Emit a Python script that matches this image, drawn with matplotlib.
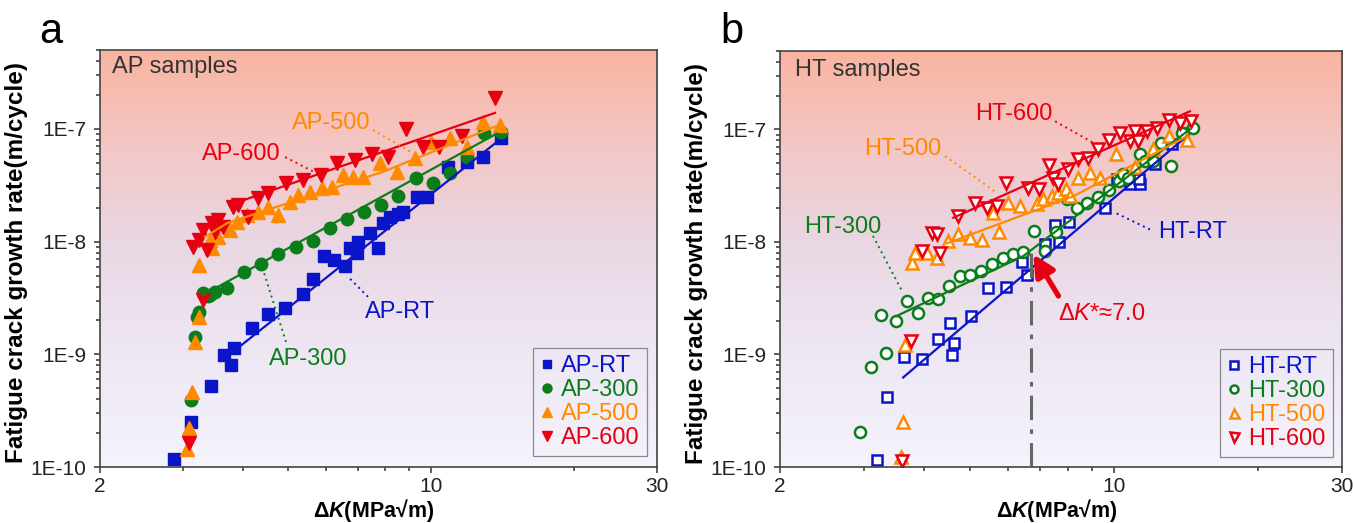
import numpy as np
import matplotlib
matplotlib.use('Agg')
import matplotlib.pyplot as plt
from matplotlib.lines import Line2D
from matplotlib.ticker import FixedLocator, NullFormatter, FuncFormatter
from matplotlib.colors import LinearSegmentedColormap

plt.rcParams['font.family'] = ['Liberation Sans', 'DejaVu Sans']
plt.rcParams['mathtext.fontset'] = 'custom'
plt.rcParams['mathtext.rm'] = 'Liberation Sans'
plt.rcParams['mathtext.it'] = 'Liberation Sans:italic'
plt.rcParams['mathtext.bf'] = 'Liberation Sans:bold'
plt.rcParams['mathtext.bfit'] = 'Liberation Sans:italic:bold'

BLUE, GREEN, ORANGE, RED = '#0a14c8', '#0b7d1a', '#ff8a00', '#e60012'

# ---------------- data: panel a (AP samples) ----------------
ap_rt_dk = [2.87, 3.12, 3.43, 3.65, 3.79, 3.84, 4.18, 4.53, 4.92, 5.36, 5.64, 5.94, 6.24,
            6.58, 6.74, 6.97, 7.02, 7.43, 7.74, 7.93, 8.19, 8.50, 8.74, 9.33, 9.79, 10.88,
            11.89, 12.89, 14.03]
ap_rt_da = [1.19e-10, 2.5e-10, 5.2e-10, 9.9e-10, 8.0e-10, 1.13e-9, 1.70e-9, 2.28e-9, 2.56e-9,
            3.43e-9, 4.66e-9, 7.45e-9, 6.87e-9, 6.08e-9, 8.7e-9, 7.87e-9, 1.0e-8, 1.19e-8,
            8.7e-9, 1.45e-8, 1.66e-8, 1.75e-8, 1.84e-8, 2.5e-8, 2.5e-8, 4.62e-8, 5.1e-8,
            5.67e-8, 8.25e-8]
ap_300_dk = [3.12, 3.17, 3.20, 3.23, 3.30, 3.38, 3.42, 3.50, 3.70, 4.03, 4.38, 4.76, 5.19,
             5.64, 6.12, 6.66, 7.23, 7.84, 8.53, 9.28, 10.08, 10.97, 11.89, 12.96, 14.05]
ap_300_da = [3.93e-10, 1.42e-9, 2.13e-9, 2.39e-9, 3.48e-9, 3.3e-9, 3.35e-9, 3.6e-9, 3.85e-9,
             5.4e-9, 6.3e-9, 7.76e-9, 8.9e-9, 1.02e-8, 1.31e-8, 1.58e-8, 1.84e-8, 2.11e-8,
             2.54e-8, 3.65e-8, 3.33e-8, 4.09e-8, 5.67e-8, 9.25e-8, 9.4e-8]
ap_500_dk = [3.05, 3.08, 3.13, 3.17, 3.24, 3.24, 3.44, 3.41, 3.55, 3.76, 3.89, 4.08, 4.32,
             4.53, 4.76, 5.04, 5.25, 5.55, 5.88, 6.17, 6.51, 6.85, 7.19, 7.80, 8.46, 9.25,
             10.0, 10.97, 11.89, 12.89, 13.98]
ap_500_da = [1.44e-10, 2.2e-10, 4.66e-10, 1.29e-9, 2.16e-9, 6.2e-9, 8.7e-9, 1.03e-8, 1.11e-8,
             1.27e-8, 1.5e-8, 1.72e-8, 1.84e-8, 2.04e-8, 1.72e-8, 2.26e-8, 2.59e-8, 2.77e-8,
             2.97e-8, 3.07e-8, 3.9e-8, 3.75e-8, 3.75e-8, 4.95e-8, 4.17e-8, 5.48e-8, 7.7e-8,
             8.25e-8, 6.95e-8, 1.16e-7, 1.08e-7]
ap_600_dk = [3.09, 3.30, 3.15, 3.23, 3.36, 3.30, 3.44, 3.55, 3.50, 3.64, 3.82, 3.92, 4.11,
             4.32, 4.53, 4.94, 5.37, 5.85, 6.34, 6.91, 7.49, 8.12, 8.85, 9.60, 10.41, 11.61,
             13.65]
ap_600_da = [1.64e-10, 3.03e-9, 9.0e-9, 1.03e-8, 8.4e-9, 1.27e-8, 1.45e-8, 1.55e-8, 1.22e-8,
             1.36e-8, 2.04e-8, 2.11e-8, 1.66e-8, 2.42e-8, 2.68e-8, 3.33e-8, 3.52e-8, 3.9e-8,
             4.95e-8, 5.3e-8, 5.99e-8, 5.67e-8, 9.9e-8, 6.87e-8, 6.87e-8, 8.65e-8, 1.9e-7]

# fitted lines, panel a
fit_ap_rt = ([3.9, 13.65], [1.13e-9, 7.45e-8])
fit_ap_300 = ([3.3, 13.76], [3.36e-9, 9.1e-8])
fit_ap_500 = ([3.33, 3.71, 7.92, 13.65], [1.10e-8, 1.46e-8, 4.17e-8, 1.05e-7])
fit_ap_600 = ([3.75, 13.65], [2.11e-8, 1.39e-7])

# ---------------- data: panel b (HT samples) ----------------
ht_rt_dk = [3.19, 3.35, 3.64, 3.96, 4.29, 4.54, 4.63, 4.58, 5.02, 5.46, 5.93, 6.57, 6.41,
            7.17, 7.68, 7.53, 8.06, 9.58, 10.13, 10.8, 11.33, 11.3, 12.18, 13.2, 13.96]
ht_rt_da = [1.16e-10, 4.15e-10, 9.5e-10, 9.2e-10, 1.37e-9, 1.9e-9, 1.26e-9, 9.9e-10, 2.2e-9,
            3.87e-9, 4.0e-9, 5.05e-9, 6.6e-9, 9.5e-9, 1.0e-8, 1.4e-8, 1.5e-8, 2.01e-8,
            3.59e-8, 3.24e-8, 3.24e-8, 3.6e-8, 4.88e-8, 7.35e-8, 9.3e-8]
ht_300_dk = [2.94, 3.10, 3.33, 3.25, 3.50, 3.68, 3.88, 4.09, 4.29, 4.52, 4.76, 5.0, 5.26,
             5.55, 5.85, 6.14, 6.46, 6.81, 7.17, 7.56, 7.96, 8.35, 8.79, 9.24, 9.75, 10.26,
             10.43, 10.7, 11.33, 11.61, 12.07, 12.54, 13.16, 13.88, 14.65]
ht_300_da = [2.06e-10, 7.67e-10, 1.04e-9, 2.25e-9, 1.99e-9, 2.99e-9, 2.36e-9, 3.2e-9, 3.1e-9,
             4.06e-9, 4.98e-9, 5.05e-9, 5.52e-9, 6.33e-9, 7.26e-9, 7.76e-9, 8.14e-9, 1.25e-8,
             8.3e-9, 1.22e-8, 2.39e-8, 2.01e-8, 2.2e-8, 2.52e-8, 2.89e-8, 3.47e-8, 3.98e-8,
             3.7e-8, 5.99e-8, 5.22e-8, 5.22e-8, 7.6e-8, 4.72e-8, 9.3e-8, 1.03e-7]
ht_500_dk = [3.58, 3.62, 3.65, 3.77, 3.83, 4.06, 4.26, 4.50, 4.72, 5.0, 5.29, 5.75, 5.59,
             6.01, 6.36, 6.89, 7.11, 7.41, 7.65, 7.93, 8.09, 8.42, 8.91, 9.35, 10.1, 11.06,
             12.05, 13.05, 14.19]
ht_500_da = [1.22e-10, 2.49e-10, 1.21e-9, 6.55e-9, 8.04e-9, 8.04e-9, 7.26e-9, 1.02e-8, 1.17e-8,
             1.09e-8, 1.05e-8, 1.22e-8, 1.82e-8, 2.23e-8, 2.08e-8, 2.16e-8, 2.39e-8, 2.55e-8,
             2.74e-8, 2.93e-8, 2.55e-8, 3.72e-8, 4.12e-8, 3.72e-8, 5.99e-8, 4.66e-8, 6.73e-8,
             8.7e-8, 8.13e-8]
ht_600_dk = [3.60, 3.76, 3.96, 4.15, 4.26, 4.32, 4.72, 5.12, 5.41, 5.68, 5.94, 6.62, 6.98,
             7.32, 7.46, 7.65, 8.0, 8.39, 8.83, 9.27, 9.78, 10.29, 10.8, 11.06, 11.22, 11.7,
             12.28, 13.05, 13.74, 14.47]
ht_600_da = [1.14e-10, 1.32e-9, 8.3e-9, 1.21e-8, 1.17e-8, 8.04e-9, 1.7e-8, 2.23e-8, 2.01e-8,
             2.08e-8, 3.31e-8, 3.03e-8, 2.97e-8, 4.78e-8, 3.72e-8, 3.24e-8, 4.41e-8, 5.41e-8,
             5.6e-8, 6.63e-8, 8.13e-8, 9.3e-8, 7.86e-8, 9.64e-8, 7.86e-8, 9.64e-8, 1.03e-7,
             1.21e-7, 1.14e-7, 1.18e-7]

fit_ht_rt = ([3.62, 14.19], [6.25e-10, 8.7e-8])
fit_ht_300 = ([3.51, 6.46, 14.4], [2.2e-9, 7.5e-9, 1.0e-7])
fit_ht_500 = ([4.47, 8.21, 14.19], [9.72e-9, 2.54e-8, 8.65e-8])
fit_ht_600 = ([4.61, 14.42], [1.64e-8, 1.45e-7])

dk_star = 6.7

# ---------------- figure ----------------
fig = plt.figure(figsize=(13.53, 5.23), dpi=100)

bg_cmap = LinearSegmentedColormap.from_list(
    'bg', [(0.0, '#f5f3fc'), (0.3, '#ede6f2'), (0.55, '#e9d6e2'), (0.8, '#f5c4c0'), (1.0, '#fab4a0')])


def make_axes(pos):
    bg = fig.add_axes(pos, zorder=0)
    bg.imshow(np.linspace(0, 1, 256)[:, None], cmap=bg_cmap, aspect='auto',
              origin='lower', extent=[0, 1, 0, 1])
    bg.axis('off')
    ax = fig.add_axes(pos, zorder=1)
    ax.patch.set_alpha(0)
    ax.set_xscale('log')
    ax.set_yscale('log')
    ax.set_xlim(2, 30)
    ax.set_ylim(1e-10, 5e-7)
    ax.xaxis.set_major_locator(FixedLocator([2, 10, 30]))
    ax.xaxis.set_minor_locator(FixedLocator([3, 4, 5, 6, 7, 8, 9, 20]))
    ax.xaxis.set_major_formatter(FuncFormatter(lambda v, p: f'{v:g}'))
    ax.xaxis.set_minor_formatter(NullFormatter())
    ax.yaxis.set_major_locator(FixedLocator([1e-10, 1e-9, 1e-8, 1e-7]))
    ax.yaxis.set_minor_locator(FixedLocator(
        [m * 10.0 ** e for e in range(-10, -6) for m in range(2, 10) if m * 10.0 ** e <= 5e-7]))
    ax.yaxis.set_major_formatter(FuncFormatter(lambda v, p: f'1E{int(round(np.log10(v)))}'))
    ax.yaxis.set_minor_formatter(NullFormatter())
    ax.tick_params(which='both', direction='out', top=False, right=False, colors='#333333',
                   labelcolor='#222222', width=1.1)
    ax.tick_params(which='major', length=4.0, labelsize=15)
    ax.tick_params(axis='x', which='major', pad=3.5)
    ax.tick_params(axis='y', which='major', pad=6)
    ax.tick_params(which='minor', length=2.6)
    for s in ax.spines.values():
        s.set_color('#444444')
        s.set_linewidth(1.2)
    ax.set_xlabel(r'Δ$\mathbfit{K}$(MPa√m)', fontsize=15.5, fontweight='bold')
    ax.set_ylabel('Fatigue crack growth rate(m/cycle)', fontsize=17.5, fontweight='bold')
    ax.xaxis.set_label_coords(0.492, -0.071)
    ax.xaxis.label.set_va('top')
    ax.yaxis.set_label_coords(-0.129, 0.49)
    return ax


ax_a = make_axes([0.0739, 0.107, 0.4117, 0.797])
ax_b = make_axes([0.5765, 0.107, 0.4154, 0.796])

# ---- panel a ----
series_a = [
    ('AP-RT', ap_rt_dk, ap_rt_da, fit_ap_rt, BLUE, 's', 8.0),
    ('AP-300', ap_300_dk, ap_300_da, fit_ap_300, GREEN, 'o', 9.0),
    ('AP-500', ap_500_dk, ap_500_da, fit_ap_500, ORANGE, '^', 9.5),
    ('AP-600', ap_600_dk, ap_600_da, fit_ap_600, RED, 'v', 9.5),
]
handles_a = []
for name, dk, da, fit, c, m, ms in series_a:
    ax_a.plot(dk, da, ls='none', marker=m, ms=ms, color=c, mec=c, zorder=2)
    ax_a.plot(fit[0], fit[1], color=c, lw=1.6, zorder=3)
    handles_a.append(Line2D([], [], ls='none', marker=m, ms=ms * 0.72, color=c))

ax_a.legend(handles_a, [s[0] for s in series_a], loc='lower right',
            bbox_to_anchor=(0.982, 0.026), bbox_transform=ax_a.transAxes, borderaxespad=0,
            fontsize=17, labelcolor=[s[4] for s in series_a], fancybox=False,
            edgecolor='#8a8a8a', facecolor='none', framealpha=1, handlelength=0.6,
            handletextpad=0.3, labelspacing=0.08, borderpad=0.3).get_frame().set_linewidth(0.9)

ax_a.text(0.0215, 0.959, 'AP samples', transform=ax_a.transAxes, fontsize=17,
          color='#333333', ha='left', va='center')

labels_a = [
    ('AP-600', 3.97, 5.99e-8, (4.92, 5.63e-8), (5.83, 3.9e-8), RED),
    ('AP-500', 6.15, 1.13e-7, (7.54, 9.78e-8), (9.16, 6.11e-8), ORANGE),
    ('AP-300', 5.5, 9.1e-10, (4.94, 1.29e-9), (4.42, 5.6e-9), GREEN),
    ('AP-RT', 8.6, 2.37e-9, (7.36, 3.24e-9), (6.68, 4.88e-9), BLUE),
]
for txt, x, y, p0, p1, c in labels_a:
    ax_a.text(x, y, txt, color=c, fontsize=17, ha='center', va='center', zorder=4)
    ax_a.plot([p0[0], p1[0]], [p0[1], p1[1]], ls=(0, (1, 2)), color=c, lw=1.4, zorder=4)

# ---- panel b ----
series_b = [
    ('HT-RT', ht_rt_dk, ht_rt_da, fit_ht_rt, BLUE, 's', 7.2),
    ('HT-300', ht_300_dk, ht_300_da, fit_ht_300, GREEN, 'o', 8.0),
    ('HT-500', ht_500_dk, ht_500_da, fit_ht_500, ORANGE, '^', 9.0),
    ('HT-600', ht_600_dk, ht_600_da, fit_ht_600, RED, 'v', 9.0),
]
handles_b = []
for name, dk, da, fit, c, m, ms in series_b:
    ax_b.plot(dk, da, ls='none', marker=m, ms=ms, mfc='white', mec=c, mew=1.8, zorder=2)
    ax_b.plot(fit[0], fit[1], color=c, lw=1.6, zorder=3)
    handles_b.append(Line2D([], [], ls='none', marker=m, ms=ms * 0.72, mfc='white', mec=c, mew=1.8))

ax_b.legend(handles_b, [s[0] for s in series_b], loc='lower right',
            bbox_to_anchor=(0.984, 0.024), bbox_transform=ax_b.transAxes, borderaxespad=0,
            fontsize=17, labelcolor=[s[4] for s in series_b], fancybox=False,
            edgecolor='#8a8a8a', facecolor='none', framealpha=1, handlelength=0.6,
            handletextpad=0.3, labelspacing=0.08, borderpad=0.3).get_frame().set_linewidth(0.9)

ax_b.text(0.0267, 0.954, 'HT samples', transform=ax_b.transAxes, fontsize=17,
          color='#333333', ha='left', va='center')

labels_b = [
    ('HT-600', 6.18, 1.36e-7, (7.53, 1.18e-7), (9.05, 7.6e-8), RED),
    ('HT-500', 3.62, 6.63e-8, (4.43, 5.78e-8), (5.68, 2.74e-8), ORANGE),
    ('HT-300', 2.71, 1.37e-8, (3.13, 1.13e-8), (3.6, 3.67e-9), GREEN),
    ('HT-RT', 14.63, 1.22e-8, (11.89, 1.29e-8), (10.05, 1.82e-8), BLUE),
]
for txt, x, y, p0, p1, c in labels_b:
    ax_b.text(x, y, txt, color=c, fontsize=17, ha='center', va='center', zorder=4)
    ax_b.plot([p0[0], p1[0]], [p0[1], p1[1]], ls=(0, (1, 2)), color=c, lw=1.4, zorder=4)

ax_b.plot([dk_star, dk_star], [1e-10, 8.0e-9], color='#666666', lw=2.2,
          ls=(0, (8, 3, 1.5, 3)), zorder=3)
ax_b.annotate('', xy=(6.78, 7.76e-9), xytext=(7.65, 3.31e-9),
              arrowprops=dict(arrowstyle='-|>', color=RED, lw=3.8, mutation_scale=32,
                              shrinkA=0, shrinkB=0), zorder=5)
ax_b.text(7.65, 2.28e-9, r'Δ$K$*≈7.0', color=RED, fontsize=17, ha='left', va='center')

fig.text(51 / 1353, 1 - 43 / 523, 'a', fontsize=30, ha='center', va='baseline')
fig.text(732 / 1353, 1 - 43 / 523, 'b', fontsize=30, ha='center', va='baseline')

fig.savefig('out.png', dpi=100)
